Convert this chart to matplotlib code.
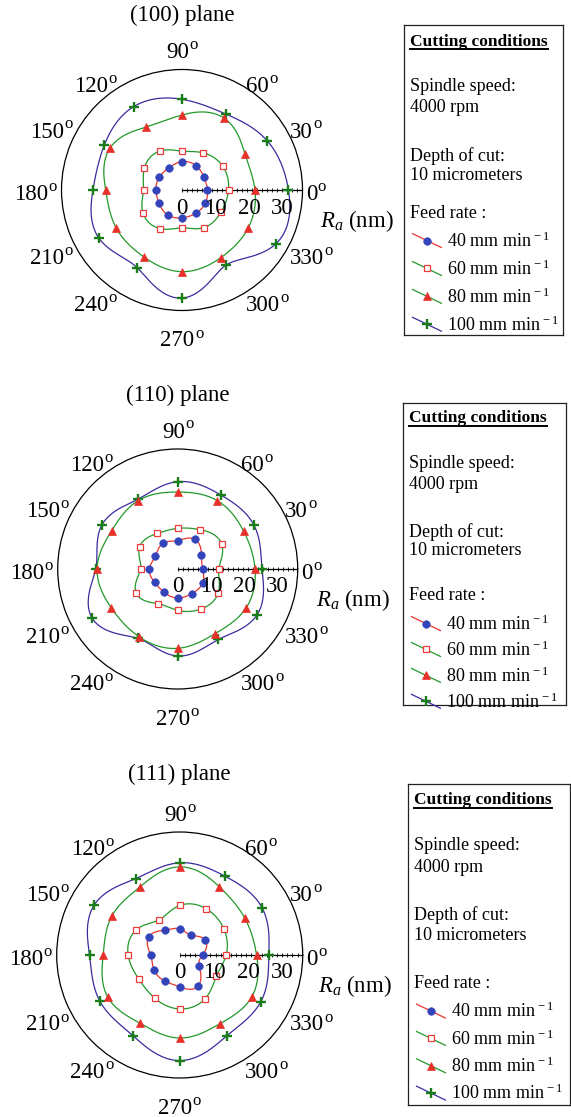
import numpy as np
import matplotlib
matplotlib.use("Agg")
import matplotlib.pyplot as plt
from matplotlib.lines import Line2D
from matplotlib.legend_handler import HandlerLine2D
from matplotlib.font_manager import FontProperties

plt.rcParams['font.family'] = ['Liberation Serif', 'DejaVu Serif']
plt.rcParams['mathtext.fontset'] = 'custom'
plt.rcParams['mathtext.rm'] = 'Liberation Serif'
plt.rcParams['mathtext.it'] = 'Liberation Serif:italic'
plt.rcParams['mathtext.bf'] = 'Liberation Serif:bold'

# ---------------- data ----------------
angles_deg = [0, 30, 60, 90, 120, 150, 180, 210, 240, 270, 300, 330]
feed_labels = [r'40 mm min$^{\,-1}$', r'60 mm min$^{\,-1}$',
               r'80 mm min$^{\,-1}$', r'100 mm min$^{\,-1}$']
plane_titles = ['(100) plane', '(110) plane', '(111) plane']
r_ticks = [0, 10, 20, 30]
angle_ticks = [0, 30, 60, 90, 120, 150, 180, 210, 240, 270, 300, 330]

# (100) plane, Ra (nm)
p100_f40 = [7.6, 7.6, 8.4, 8.5, 7.7, 7.8, 7.8, 7.9, 8.6, 8.3, 8.1, 8.0]
p100_f60 = [13.9, 14.1, 12.8, 11.6, 13.4, 13.0, 11.5, 13.5, 13.3, 11.3, 13.0, 13.4]
p100_f80 = [21.8, 21.7, 24.9, 22.4, 21.7, 24.9, 22.8, 22.7, 23.0, 24.4, 23.3, 22.8]
p100_f100 = [31.8, 29.4, 26.2, 27.1, 28.8, 26.8, 26.6, 28.7, 26.8, 32.3, 26.0, 32.3]

# (110) plane
p110_f40 = [7.5, 8.2, 10.3, 8.5, 8.9, 7.7, 8.5, 8.0, 8.1, 8.7, 8.5, 8.6]
p110_f60 = [12.3, 15.2, 13.6, 12.2, 12.3, 13.2, 11.1, 14.4, 12.0, 12.4, 13.9, 14.1]
p110_f80 = [23.2, 22.8, 23.7, 23.1, 23.7, 22.9, 24.2, 23.1, 23.4, 23.8, 22.4, 23.6]
p110_f100 = [25.3, 26.4, 25.7, 26.2, 24.1, 26.3, 24.6, 29.6, 24.0, 26.1, 24.4, 27.5]

# (111) plane
p111_f40 = [6.7, 8.7, 6.6, 7.7, 8.4, 10.5, 8.5, 8.7, 8.8, 9.3, 10.6, 6.6]
p111_f60 = [13.6, 15.0, 15.6, 14.5, 11.9, 14.7, 15.1, 13.9, 14.6, 15.8, 14.8, 12.4]
p111_f80 = [22.5, 21.9, 23.1, 25.8, 23.1, 22.9, 22.4, 24.4, 23.1, 24.3, 23.3, 24.4]
p111_f100 = [26.1, 27.8, 26.6, 27.0, 25.8, 29.0, 26.4, 27.0, 27.3, 30.9, 27.4, 27.4]

panels_data = [
    [p100_f40, p100_f60, p100_f80, p100_f100],
    [p110_f40, p110_f60, p110_f80, p110_f100],
    [p111_f40, p111_f60, p111_f80, p111_f100],
]

RMAX = 36.0

# ---------------- styles ----------------
series_styles = [
    dict(color='#e8352f', lw=0.9, marker='o', ms=5.4, mfc='#3344bb', mec='#3344bb', mew=0.5),
    dict(color='#22992a', lw=0.9, marker='s', ms=5.0, mfc='white', mec='#ee3b3b', mew=0.9),
    dict(color='#22992a', lw=0.9, marker='^', ms=5.6, mfc='#e8302a', mec='#e8302a', mew=0.5),
    dict(color='#3a2c9e', lw=0.9, marker='+', ms=7.5, mfc='#1a7d1a', mec='#1a7d1a', mew=1.7),
]

W, H = 571, 1117
fig = plt.figure(figsize=(W / 100, H / 100), dpi=100)
fig.patch.set_facecolor('white')

# layout in pixels
polar_layout = [(182.0, 190.0, 120.5), (177.7, 569.0, 120.0), (179.7, 955.0, 123.0)]
box_layout = [(404, 25, 563, 335), (403, 403, 566, 705), (408, 784, 570, 1105)]
box_rows = [
    [16.7, 61.7, 82.3, 131.0, 150.0, 188.3],
    [15.0, 61.0, 81.3, 128.7, 147.7, 192.0],
    [16.0, 61.0, 83.3, 131.0, 152.0, 199.3],
]
legend_top = [206.5, 211.5, 218.0]
legend_spacing = [0.47, 0.36, 0.44]
box_texts = ['Cutting conditions', 'Spindle speed:', '4000 rpm',
             'Depth of cut:', '10 micrometers', 'Feed rate :']


def periodic_spline(r_vals, n_per=24):
    y = np.asarray(r_vals, float)
    n = len(y)
    h = 2 * np.pi / n
    A = np.zeros((n, n))
    for i in range(n):
        A[i, i] = 4.0
        A[i, (i - 1) % n] = 1.0
        A[i, (i + 1) % n] = 1.0
    b = 6.0 / h ** 2 * (np.roll(y, 1) - 2 * y + np.roll(y, -1))
    M = np.linalg.solve(A, b)
    t = np.linspace(0, 1, n_per, endpoint=False)
    th_all, r_all = [], []
    for i in range(n):
        j = (i + 1) % n
        s = (M[i] * (1 - t) ** 3 + M[j] * t ** 3) * h ** 2 / 6 \
            + (y[i] - M[i] * h ** 2 / 6) * (1 - t) + (y[j] - M[j] * h ** 2 / 6) * t
        th_all.append(i * h + t * h)
        r_all.append(s)
    th = np.concatenate(th_all + [[2 * np.pi]])
    rr = np.concatenate(r_all + [[y[0]]])
    marks = list(range(0, n * n_per, n_per))
    return th, rr, marks


class SlopedHandler(HandlerLine2D):
    def create_artists(self, legend, orig_handle, xdescent, ydescent,
                       width, height, fontsize, trans):
        artists = super().create_artists(legend, orig_handle, xdescent, ydescent,
                                         width, height, fontsize, trans)
        for a in artists:
            x = np.asarray(a.get_xdata(), float)
            x3 = np.linspace(x[0], x[-1], 3)
            ym = (height - ydescent) / 2
            a.set_data(x3, [ym + 0.55 * height, ym, ym - 0.55 * height])
            a.set_markevery([1])
        return artists


label_fs = 16.5
deg_fs = 12.0
deg_w = 9.0  # approx pixel width of the superscript "o"
for k in range(3):
    cx, cy, R = polar_layout[k]
    ax = fig.add_axes([(cx - R) / W, 1 - (cy + R) / H, 2 * R / W, 2 * R / H],
                      projection='polar')
    ax.set_ylim(0, RMAX)
    ax.set_yticks([])
    ax.set_xticks(np.deg2rad(angle_ticks))
    ax.set_xticklabels([])
    ax.set_xticks(np.deg2rad(np.arange(0, 360, 6)), minor=True)
    ax.grid(False)
    ax.tick_params(axis='x', which='major', direction='in', length=4, width=0.7, colors='black')
    ax.tick_params(axis='x', which='minor', direction='in', length=2, width=0.6, colors='black')
    ax.spines['polar'].set_linewidth(0.9)
    ax.spines['polar'].set_color('black')
    ax.set_facecolor('none')

    # radial axis along 0 degrees
    ax.plot([0, 0], [0, RMAX], color='black', lw=0.9, zorder=1.5)
    rt = np.arange(0, RMAX + 0.01, 1.5)
    ax.plot(np.zeros_like(rt), rt, linestyle='none', marker='|', ms=3.5, mew=0.6,
            color='black', zorder=1.5)

    handles = []
    for si in [3, 2, 1, 0]:
        th, rr, marks = periodic_spline(panels_data[k][si])
        st = series_styles[si]
        ln, = ax.plot(th, rr, color=st['color'], lw=st['lw'], marker=st['marker'],
                      ms=st['ms'], mfc=st['mfc'], mec=st['mec'], mew=st['mew'],
                      markevery=marks, zorder=2 + (3 - si) * 0.1, clip_on=False)
        handles.append((si, ln))
    handles = [h for _, h in sorted(handles, key=lambda p: p[0])]

    # radial tick labels
    for v in r_ticks:
        ax.annotate(str(v), xy=(0, v), xytext=(0, -18), textcoords='offset pixels',
                    ha='center', va='center', fontsize=label_fs, zorder=5,
                    annotation_clip=False)

    # angle labels (number + raised "o")
    for deg in angle_ticks:
        th = np.deg2rad(deg)
        c, s = np.cos(th), np.sin(th)
        if abs(c) < 0.1:
            ha, dx = 'center', -deg_w / 2
            dy = 17.0 if s > 0 else -30.5
        elif c > 0:
            ha, dx = 'left', 3.5
            dy = 8 * s - 4.5 - 3.5 * max(s, 0)
        else:
            ha, dx = 'right', -4.5 - deg_w
            dy = 8 * s - 4.5 - 3.5 * max(s, 0)
        main = ax.annotate('%d' % deg, xy=(th, RMAX), xytext=(dx, dy),
                           textcoords='offset pixels', ha=ha, va='center',
                           fontsize=label_fs, annotation_clip=False)
        ax.annotate('o', xy=(1, 1), xycoords=main, xytext=(0.5, 5.0),
                    textcoords='offset pixels', ha='left', va='top',
                    fontsize=deg_fs, annotation_clip=False)

    # title
    tdist = [175.0, 174.0, 180.7][k]
    ax.text(0.5, 0.5 + tdist / (2 * R), plane_titles[k], transform=ax.transAxes,
            ha='center', va='center', fontsize=label_fs)
    # Ra label
    ax.text(0.5 + 138.0 / (2 * R), 0.5 - 31.0 / (2 * R), r'$R_a$ (nm)',
            transform=ax.transAxes, ha='left', va='center', fontsize=label_fs)

    # info box
    x0, y0, x1, y1 = box_layout[k]
    bw, bh = x1 - x0, y1 - y0
    bax = fig.add_axes([x0 / W, 1 - y1 / H, bw / W, bh / H])
    bax.set_xticks([])
    bax.set_yticks([])
    bax.set_xlim(0, 1)
    bax.set_ylim(0, 1)
    for sp in bax.spines.values():
        sp.set_linewidth(0.9)
        sp.set_color('#222222')
    rows = box_rows[k]
    txt_objs = []
    for i, s in enumerate(box_texts):
        if i == 0:
            t = bax.text(6 / bw, 1 - rows[i] / bh, s, transform=bax.transAxes,
                         ha='left', va='center', fontsize=12.5, fontweight='bold')
        else:
            t = bax.text(6 / bw, 1 - rows[i] / bh, s, transform=bax.transAxes,
                         ha='left', va='center', fontsize=13)
        txt_objs.append(t)
    bax._cc_text = txt_objs[0]

    leg = bax.legend(handles, feed_labels, loc='upper left',
                     bbox_to_anchor=(8.5 / bw, 1 - legend_top[k] / bh),
                     bbox_transform=bax.transAxes, frameon=False, numpoints=1,
                     handlelength=1.6, handletextpad=0.3, borderpad=0,
                     borderaxespad=0, labelspacing=legend_spacing[k],
                     prop=FontProperties(family='Liberation Serif', size=13),
                     handler_map={Line2D: SlopedHandler()})

# underline the bold headings
fig.canvas.draw()
renderer = fig.canvas.get_renderer()
inv = fig.transFigure.inverted()
for a in fig.axes:
    if hasattr(a, '_cc_text'):
        bb = a._cc_text.get_window_extent(renderer)
        ymid = (bb.y0 + bb.y1) / 2
        yl = ymid - 7.6
        p0 = inv.transform((bb.x0, yl))
        p1 = inv.transform((bb.x1, yl))
        fig.add_artist(Line2D([p0[0], p1[0]], [p0[1], p1[1]], transform=fig.transFigure,
                              color='black', lw=1.4))

fig.savefig('out.png', dpi=100, facecolor='white')
